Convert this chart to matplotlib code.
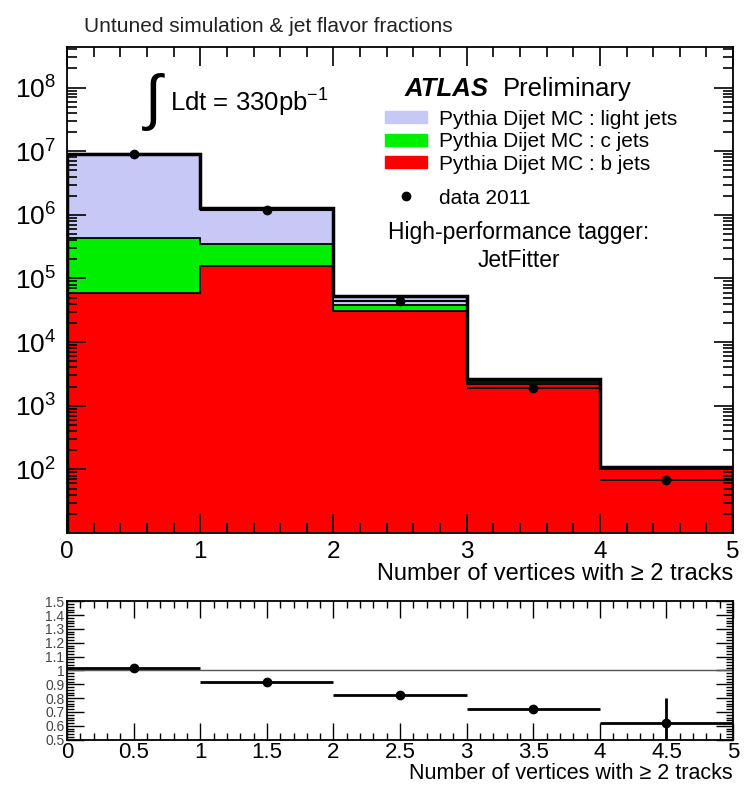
import numpy as np
import matplotlib
matplotlib.use("Agg")
import matplotlib.pyplot as plt
from matplotlib.patches import Patch
from matplotlib.lines import Line2D
from matplotlib.ticker import MultipleLocator, LogLocator, NullFormatter, FixedLocator, FuncFormatter

plt.rcParams['font.family'] = ['Liberation Sans', 'DejaVu Sans']
plt.rcParams['mathtext.fontset'] = 'custom'
plt.rcParams['mathtext.rm'] = 'Liberation Sans'
plt.rcParams['mathtext.it'] = 'Liberation Sans:italic'

# ---- data ----
edges = [0, 1, 2, 3, 4, 5]
centers = [0.5, 1.5, 2.5, 3.5, 4.5]
b_jets = [6.0e4, 1.6e5, 3.1e4, 2.2e3, 100]
c_jets = [3.7e5, 1.9e5, 8.0e3, 200, 4]
light_jets = [8.6e6, 9.1e5, 1.5e4, 200, 3]
data_2011 = [9.0e6, 1.2e6, 4.5e4, 1.9e3, 69]
ratio = [1.02, 0.92, 0.82, 0.72, 0.62]
ratio_err = [0.005, 0.005, 0.008, 0.015, 0.18]
labels = ["Pythia Dijet MC : light jets", "Pythia Dijet MC : c jets",
          "Pythia Dijet MC : b jets", "data 2011"]
colors = ["#c8c8f6", "#00ee00", "#ff0000"]

fig = plt.figure(figsize=(7.45, 7.89), dpi=100)
ax = fig.add_axes([0.090, 0.3245, 0.894, 0.6155])
axr = fig.add_axes([0.090, 0.0625, 0.894, 0.1755])

b = np.array(b_jets)
c = np.array(c_jets)
l = np.array(light_jets)
base = 1.0
ax.stairs(b + c + l, edges, baseline=base, fill=True, color=colors[0])
ax.stairs(b + c, edges, baseline=base, fill=True, color=colors[1])
ax.stairs(b, edges, baseline=base, fill=True, color=colors[2])
ax.stairs(b, edges, baseline=None, color='black', lw=1.3)
ax.stairs(b + c, edges, baseline=None, color='black', lw=1.3)
ax.stairs(b + c + l, edges, baseline=base, color='black', lw=2.5)
ax.errorbar(centers, data_2011, xerr=0.5, fmt='o', color='black', ms=6, lw=1.5, capsize=0)

ax.set_yscale('log')
ax.set_xlim(0, 5)
ax.set_ylim(10, 4.3e8)
ax.xaxis.set_major_locator(MultipleLocator(1))
ax.xaxis.set_minor_locator(MultipleLocator(0.2))
ax.yaxis.set_major_locator(FixedLocator([1e2, 1e3, 1e4, 1e5, 1e6, 1e7, 1e8]))
ax.yaxis.set_minor_locator(LogLocator(base=10, subs=np.arange(2, 10)))
ax.yaxis.set_minor_formatter(NullFormatter())
ax.tick_params(which='both', direction='in', top=True, right=True, width=1.2)
ax.tick_params(which='major', length=14, pad=6)
ax.tick_params(axis='x', labelsize=17.5)
ax.tick_params(axis='y', labelsize=19, pad=8)
ax.tick_params(which='minor', length=7)
for s in ax.spines.values():
    s.set_linewidth(1.3)
ax.set_xlabel("Number of vertices with \u2265 2 tracks", loc='right', fontsize=17, labelpad=0)

fig.text(0.113, 0.967, "Untuned simulation & jet flavor fractions", fontsize=15, color='#222222', va='center')

ax.text(0.112, 0.888, r"$\int$", transform=ax.transAxes, fontsize=44, va='center', ha='left')
ax.text(0.155, 0.885, r"Ldt = 330pb$^{\mathregular{-1}}$", transform=ax.transAxes, fontsize=18.5, va='center')
ax.text(0.507, 0.915, "ATLAS", transform=ax.transAxes, fontsize=18.5, fontweight='bold', style='italic', va='center')
ax.text(0.655, 0.915, "Preliminary", transform=ax.transAxes, fontsize=18.5, va='center')

handles = [Patch(color=colors[0]), Patch(color=colors[1]), Patch(color=colors[2])]
leg = ax.legend(handles, labels[:3], loc='upper left', bbox_to_anchor=(0.478, 0.872), frameon=False,
                fontsize=15, handlelength=2.0, handleheight=0.5, labelspacing=0.17,
                handletextpad=0.55, borderaxespad=0, borderpad=0)
ax.add_artist(leg)
leg2 = ax.legend([Line2D([], [], marker='o', color='black', ls='none', ms=6)], labels[3:],
                 loc='upper left', bbox_to_anchor=(0.478, 0.709), frameon=False,
                 fontsize=15, handlelength=2.0, handletextpad=0.55, borderaxespad=0, borderpad=0)
ax.text(0.678, 0.5905, "High-performance tagger:\nJetFitter", transform=ax.transAxes,
        fontsize=16.5, ha='center', va='center', linespacing=1.3)

# ratio panel
axr.axhline(1.0, color='#555555', lw=1)
axr.errorbar(centers, ratio, xerr=0.5, yerr=ratio_err, fmt='o', color='black', ms=6, lw=2, capsize=0)
axr.set_xlim(0, 5)
axr.set_ylim(0.5, 1.5)
axr.xaxis.set_major_locator(MultipleLocator(0.5))
axr.xaxis.set_minor_locator(MultipleLocator(0.1))
axr.xaxis.set_major_formatter(FuncFormatter(lambda v, p: "%g" % round(v, 1)))
axr.yaxis.set_major_locator(MultipleLocator(0.1))
axr.yaxis.set_minor_locator(MultipleLocator(0.02))
axr.yaxis.set_major_formatter(FuncFormatter(lambda v, p: "%g" % round(v, 1)))
axr.tick_params(which='both', direction='in', top=True, right=True, width=1.0)
axr.tick_params(which='major', length=12)
axr.tick_params(which='minor', length=5)
axr.tick_params(axis='x', labelsize=16, pad=2)
axr.tick_params(axis='y', labelsize=10, pad=2, labelcolor='#444444')
for s in axr.spines.values():
    s.set_linewidth(1.3)
axr.set_xlabel("Number of vertices with \u2265 2 tracks", loc='right', fontsize=15.5, labelpad=0)

fig.savefig("out.png", dpi=100)
